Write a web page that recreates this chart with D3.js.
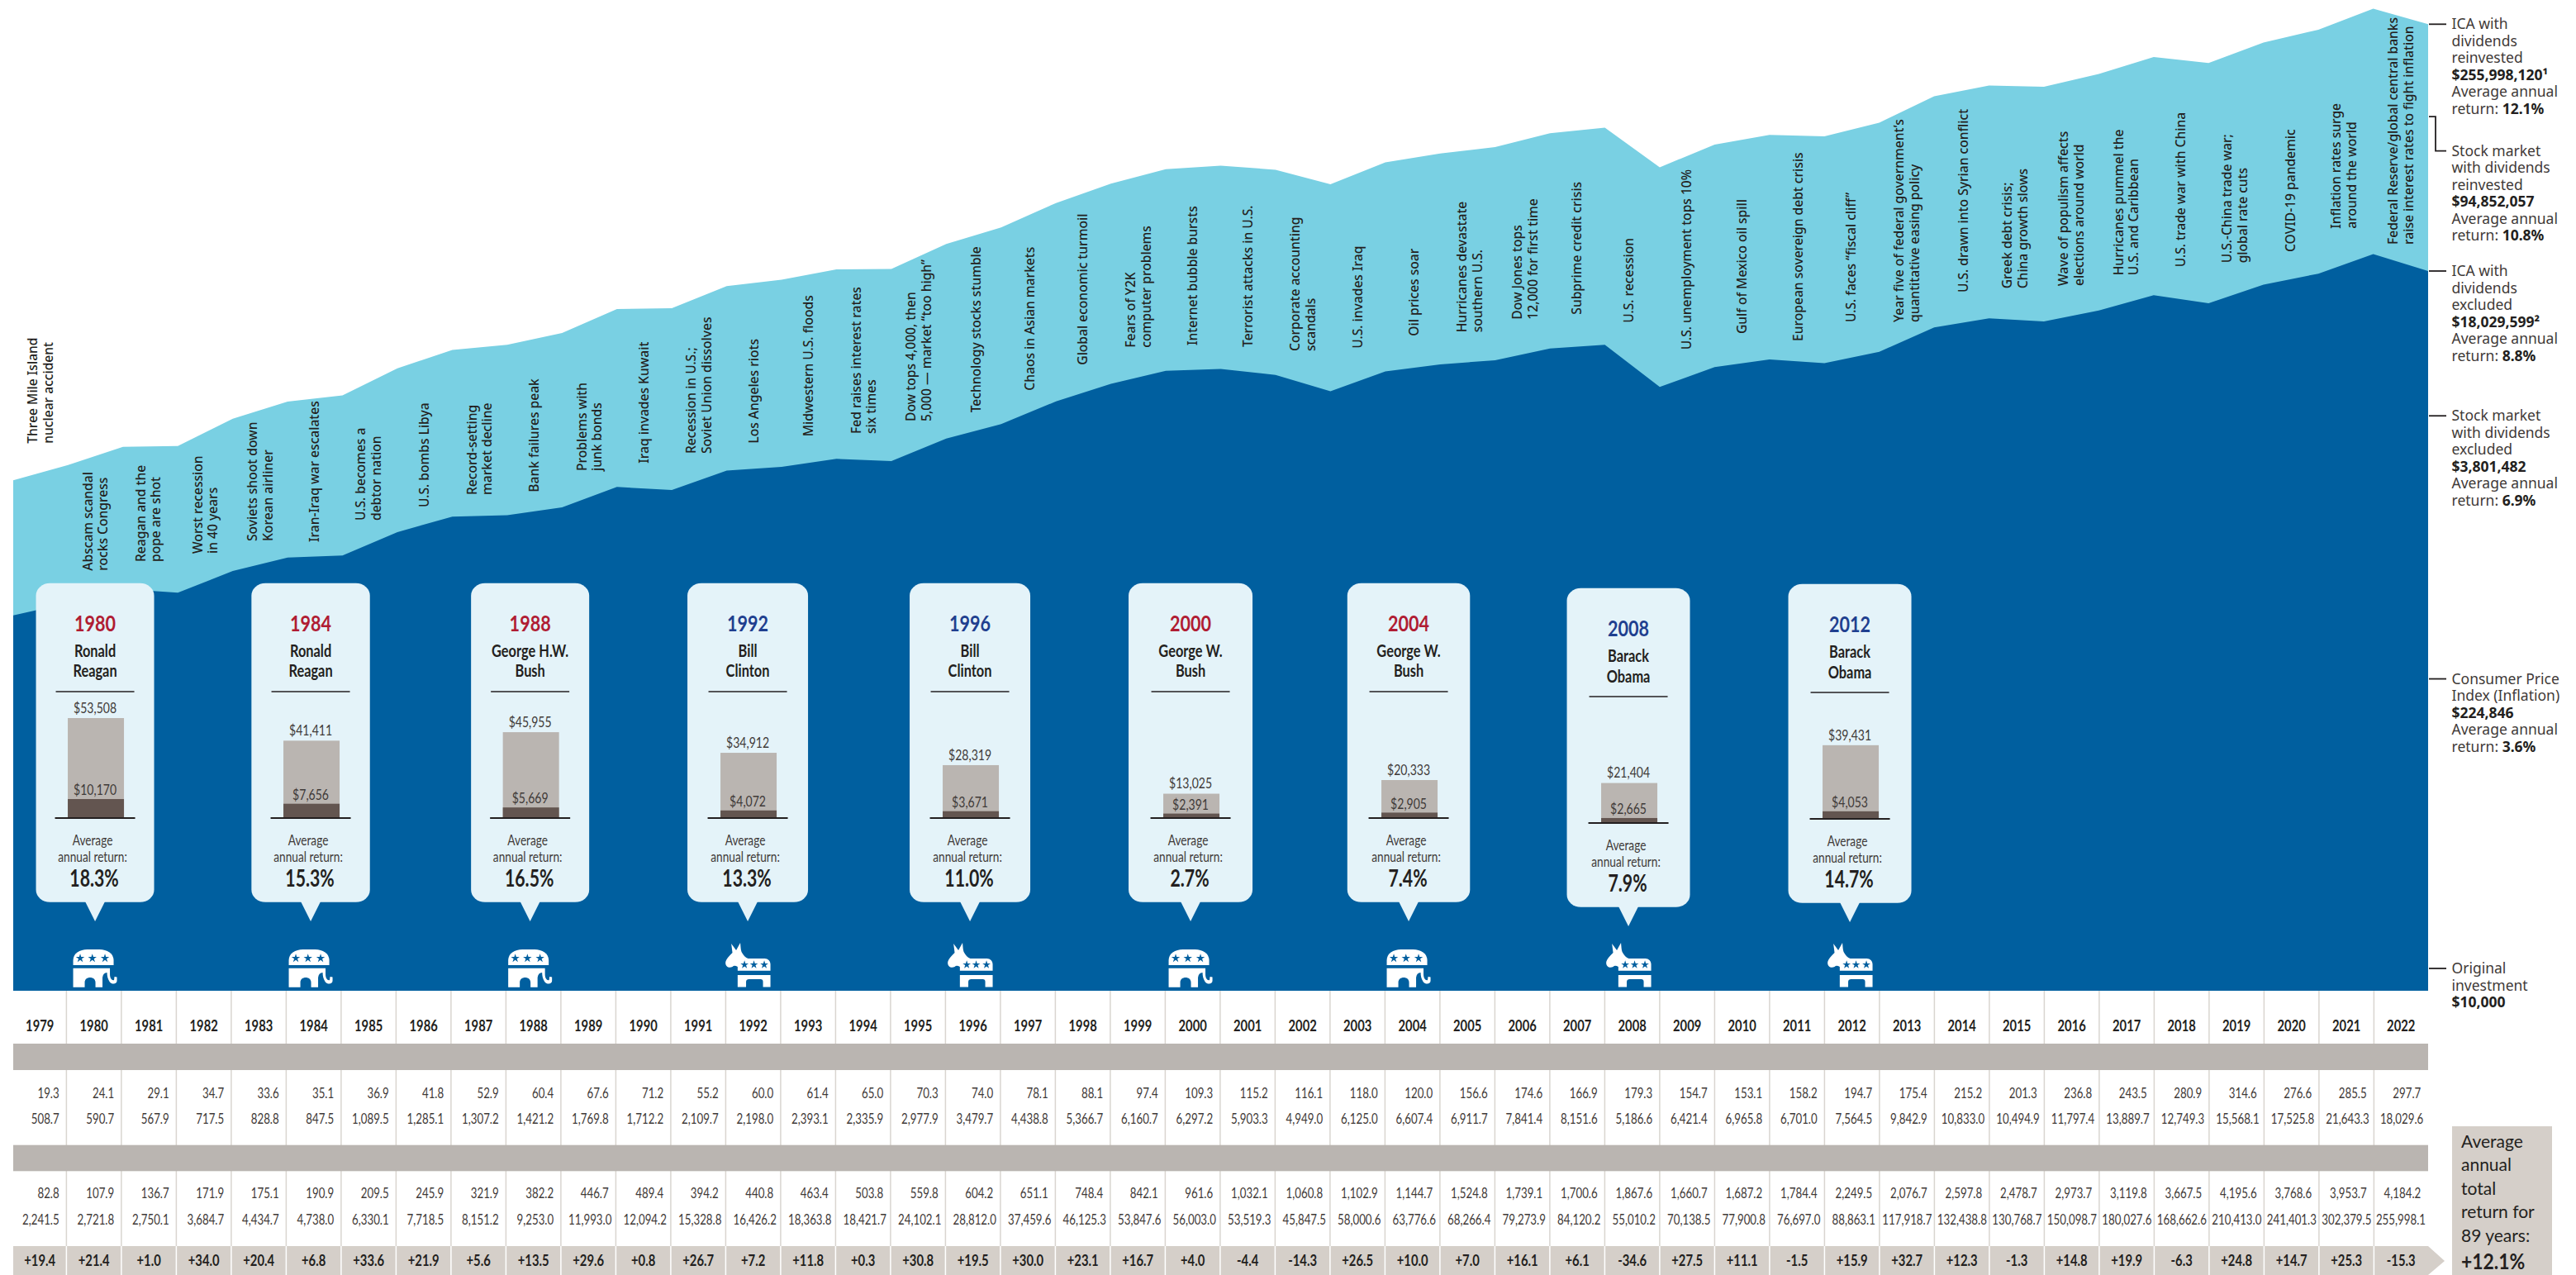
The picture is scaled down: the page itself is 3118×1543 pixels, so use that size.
<!DOCTYPE html>
<html>
<head>
<meta charset="utf-8">
<script src="https://cdn.jsdelivr.net/npm/d3@7"></script>
<style>html,body{margin:0;padding:0;background:#fff}svg{display:block}</style>
</head>
<body>
<svg id="c" width="3118" height="1543"></svg>
<script>
// ---------- DATA ----------
const years = [1979,1980,1981,1982,1983,1984,1985,1986,1987,1988,1989,1990,1991,1992,1993,1994,1995,1996,1997,1998,1999,2000,2001,2002,2003,2004,2005,2006,2007,2008,2009,2010,2011,2012,2013,2014,2015,2016,2017,2018,2019,2020,2021,2022];
const dividendsExcludedIncome = [19.3,24.1,29.1,34.7,33.6,35.1,36.9,41.8,52.9,60.4,67.6,71.2,55.2,60.0,61.4,65.0,70.3,74.0,78.1,88.1,97.4,109.3,115.2,116.1,118.0,120.0,156.6,174.6,166.9,179.3,154.7,153.1,158.2,194.7,175.4,215.2,201.3,236.8,243.5,280.9,314.6,276.6,285.5,297.7];
const icaExcluded = [508.7,590.7,567.9,717.5,828.8,847.5,1089.5,1285.1,1307.2,1421.2,1769.8,1712.2,2109.7,2198.0,2393.1,2335.9,2977.9,3479.7,4438.8,5366.7,6160.7,6297.2,5903.3,4949.0,6125.0,6607.4,6911.7,7841.4,8151.6,5186.6,6421.4,6965.8,6701.0,7564.5,9842.9,10833.0,10494.9,11797.4,13889.7,12749.3,15568.1,17525.8,21643.3,18029.6];
const dividendsReinvestedIncome = [82.8,107.9,136.7,171.9,175.1,190.9,209.5,245.9,321.9,382.2,446.7,489.4,394.2,440.8,463.4,503.8,559.8,604.2,651.1,748.4,842.1,961.6,1032.1,1060.8,1102.9,1144.7,1524.8,1739.1,1700.6,1867.6,1660.7,1687.2,1784.4,2249.5,2076.7,2597.8,2478.7,2973.7,3119.8,3667.5,4195.6,3768.6,3953.7,4184.2];
const icaReinvested = [2241.5,2721.8,2750.1,3684.7,4434.7,4738.0,6330.1,7718.5,8151.2,9253.0,11993.0,12094.2,15328.8,16426.2,18363.8,18421.7,24102.1,28812.0,37459.6,46125.3,53847.6,56003.0,53519.3,45847.5,58000.6,63776.6,68266.4,79273.9,84120.2,55010.2,70138.5,77900.8,76697.0,88863.1,117918.7,132438.8,130768.7,150098.7,180027.6,168662.6,210413.0,241401.3,302379.5,255998.1];
const annualReturns = [19.4,21.4,1.0,34.0,20.4,6.8,33.6,21.9,5.6,13.5,29.6,0.8,26.7,7.2,11.8,0.3,30.8,19.5,30.0,23.1,16.7,4.0,-4.4,-14.3,26.5,10.0,7.0,16.1,6.1,-34.6,27.5,11.1,-1.5,15.9,32.7,12.3,-1.3,14.8,19.9,-6.3,24.8,14.7,25.3,-15.3];
const startReinvested = 1900;   // value at the left edge of the chart
const startExcluded = 445;

const events = [
["Three Mile Island","nuclear accident"],["Abscam scandal","rocks Congress"],["Reagan and the","pope are shot"],["Worst recession","in 40 years"],["Soviets shoot down","Korean airliner"],["Iran-Iraq war escalates"],["U.S. becomes a","debtor nation"],["U.S. bombs Libya"],["Record-setting","market decline"],["Bank failures peak"],["Problems with","junk bonds"],["Iraq invades Kuwait"],["Recession in U.S.;","Soviet Union dissolves"],["Los Angeles riots"],["Midwestern U.S. floods"],["Fed raises interest rates","six times"],["Dow tops 4,000, then","5,000 — market “too high”"],["Technology stocks stumble"],["Chaos in Asian markets"],["Global economic turmoil"],["Fears of Y2K","computer problems"],["Internet bubble bursts"],["Terrorist attacks in U.S."],["Corporate accounting","scandals"],["U.S. invades Iraq"],["Oil prices soar"],["Hurricanes devastate","southern U.S."],["Dow Jones tops","12,000 for first time"],["Subprime credit crisis"],["U.S. recession"],["U.S. unemployment tops 10%"],["Gulf of Mexico oil spill"],["European sovereign debt crisis"],["U.S. faces “fiscal cliff”"],["Year five of federal government’s","quantitative easing policy"],["U.S. drawn into Syrian conflict"],["Greek debt crisis;","China growth slows"],["Wave of populism affects","elections around world"],["Hurricanes pummel the","U.S. and Caribbean"],["U.S. trade war with China"],["U.S.-China trade war;","global rate cuts"],["COVID-19 pandemic"],["Inflation rates surge","around the world"],["Federal Reserve/global central banks","raise interest rates to fight inflation"]];

const electionYears = [1980,1984,1988,1992,1996,2000,2004,2008,2012];
const electionParties = ["R","R","R","D","D","R","R","D","D"];
const electionNames = [["Ronald","Reagan"],["Ronald","Reagan"],["George H.W.","Bush"],["Bill","Clinton"],["Bill","Clinton"],["George W.","Bush"],["George W.","Bush"],["Barack","Obama"],["Barack","Obama"]];
const electionReinvested = [53508,41411,45955,34912,28319,13025,20333,21404,39431];
const electionExcluded = [10170,7656,5669,4072,3671,2391,2905,2665,4053];
const electionAvgReturn = [18.3,15.3,16.5,13.3,11.0,2.7,7.4,7.9,14.7];

const legendItems = [
 {value:255998120, lines:["ICA with","dividends","reinvested"], amount:"$255,998,120", sup:"¹", ret:"12.1%"},
 {value:94852057, lines:["Stock market","with dividends","reinvested"], amount:"$94,852,057", sup:"", ret:"10.8%", bracket:true},
 {value:18029599, lines:["ICA with","dividends","excluded"], amount:"$18,029,599", sup:"²", ret:"8.8%"},
 {value:3801482, lines:["Stock market","with dividends","excluded"], amount:"$3,801,482", sup:"", ret:"6.9%"},
 {value:224846, lines:["Consumer Price","Index (Inflation)"], amount:"$224,846", sup:"", ret:"3.6%"},
 {value:10000, lines:["Original","investment"], amount:"$10,000", sup:"", ret:null}
];
const summaryLines = ["Average","annual","total","return for","89 years:"];
const summaryValue = "+12.1%";

// ---------- LAYOUT ----------
const LIGHT="#79d0e3", DARK="#005f9f", PALE="#e4f3f9", BAND="#bab5b1", TAN="#d5cfc9", INK="#231f20", GREY="#3f3a38";
const chartL=16, chartR=2939, chartB=1199;
const eventBottoms=[536.7,690.7,680,670,655,656,630,614,599,595.7,570,560.7,549,536.7,528.3,525,510,499.3,472.7,441.7,420.7,418,420,425,421.7,406.7,402.3,386.7,380.7,390.7,423.3,404,413,390,390,354,349.3,346,333.3,323.3,318.3,305,276.7,296];
const eventNudge={17:3.5,18:2.5,25:2,29:-4,35:3,32:1.5,42:-2,2:-2.5,6:-2,27:3,26:3,36:-1.5,40:-1};
const calloutNudge=[1.4,-3.6,-4,-6.6,-3.6,-2.6,-4.6,-4.6,-2.6];
const calloutDrop=[0,0,0,0,0,0,0,6,1];
const calloutW=[143,143.4,143,146,146,150,148.5,149,149];

const svg=d3.select("#c");
const x=d3.scaleLinear().domain([1978,2022]).range([chartL,chartR]);
const y=d3.scaleLog().domain([10,255998.1]).range([1172,29.3]);
const tableX=d3.scaleLinear().domain([1980,2022]).range([80.4,2873.4]);
const colL=yr=>yr===1979?chartL:tableX(yr);
const colR=yr=>yr===2022?chartR:tableX(yr+1);
const barH=d3.scaleLinear().domain([0,53508]).range([0,121]);

function label(g,str,px,py,o={}){
  const t=g.append("text").text(str)
    .attr("transform",`translate(${px},${py+(o.size||16)*0.35}) scale(${o.sx||1},1)`)
    .attr("font-family",o.family||"Lato").attr("font-size",o.size||16)
    .attr("font-weight",o.weight||400).attr("text-anchor",o.anchor||"start")
    .attr("fill",o.fill||INK);
  return t;
}

// ---------- AREAS ----------
const series=(start,vals)=>[{yr:1978,v:start}].concat(vals.map((v,i)=>({yr:years[i],v})));
const area=d3.area().x(d=>x(d.yr)).y0(chartB).y1(d=>y(d.v)).curve(d3.curveLinear);
svg.append("path").datum(series(startReinvested,icaReinvested)).attr("d",area).attr("fill",LIGHT);
svg.append("path").datum(series(startExcluded,icaExcluded)).attr("d",area).attr("fill",DARK);

// ---------- EVENTS ----------
const gEv=svg.append("g");
events.forEach((lines,i)=>{
  const yr=years[i];
  const base=(x(yr-1)+x(yr))/2+5-(lines.length-1)*9+(eventNudge[i]||0);
  lines.forEach((s,k)=>{
    gEv.append("text").text(s)
      .attr("transform",`translate(${base+k*18.8},${eventBottoms[i]}) rotate(-90)`)
      .attr("font-family","Noto Sans").attr("font-size",15.6).attr("font-weight",500).attr("fill",INK);
  });
});

// ---------- CALLOUTS ----------
function elephant(g,color){
  g.append("path").attr("fill","#fff").attr("d","M0,19 V13 C0,5 8,0 17,0 H32 C41,0 49,5 49,13 V19 Z");
  g.append("path").attr("fill","#fff").attr("d","M0,22.7 H44.5 V30 C44.5,35 47,38 49.5,37 L50,33 L53,33.5 L53,38 C53,42 47,43 44,39 C42,36 41,32 41,28 C38,28 36,30 35.5,34 L35.5,45.8 H27 V40 C27,36 24,34 20.5,34 C17,34 14,36 14,40 V45.8 H0 Z");
  [7,21.7,37].forEach(sx=>g.append("path").attr("d",d3.symbol().type(d3.symbolStar).size(34)()).attr("transform",`translate(${sx+1.5},10.7)`).attr("fill",color));
}
function donkey(g,color){
  g.append("path").attr("fill","#fff").attr("d","M18.5,0 C19,5 19,8 20,11 C22,15 25,18 28,19 H48 C52,19 55,22 55,26 V33.7 H15.3 V29 C13,28 11,27 9,29 C5,31 0.5,29 0.6,24 C1,20 5,16 9,12 L7.6,1 L13.5,9 Z");
  g.append("path").attr("fill","#fff").attr("d","M15.3,39 H55 V53.4 H46 V47 C46,45 45,44 43,44 H29 C27,44 25.5,45 25.5,47 V53.4 H15.3 Z");
  [23.6,35,47.5].forEach(sx=>g.append("path").attr("d",d3.symbol().type(d3.symbolStar).size(30)()).attr("transform",`translate(${sx},26.5)`).attr("fill",color));
}
electionYears.forEach((yr,i)=>{
  const cx=tableX(yr)+33.25+calloutNudge[i], dy=calloutDrop[i], w=calloutW[i];
  const g=svg.append("g").attr("transform",`translate(${cx},${dy})`);
  g.append("rect").attr("x",-w/2).attr("y",705.8).attr("width",w).attr("height",386).attr("rx",17).attr("ry",15).attr("fill",PALE);
  g.append("path").attr("d",d3.line()([[-12.5,1090],[12.5,1090],[0,1115]])+"Z").attr("fill",PALE);
  const party=electionParties[i];
  label(g,yr,0,755,{size:27,weight:700,anchor:"middle",sx:.8,fill:party==="R"?"#b01c33":"#1f3f8f"});
  const gap=party==="D"&&yr>=2008?25.3:23.4;
  electionNames[i].forEach((n,k)=>label(g,n,0,787.8+k*gap,{size:21,weight:700,anchor:"middle",sx:.78}));
  g.append("line").attr("x1",-47.5).attr("x2",47.5).attr("y1",837).attr("y2",837).attr("stroke",INK).attr("stroke-width",1.5);
  const base=990, h1=barH(electionReinvested[i]), h2=barH(electionExcluded[i]);
  g.append("rect").attr("x",-33).attr("width",68).attr("y",base-h1).attr("height",h1).attr("fill",BAND);
  g.append("rect").attr("x",-33).attr("width",68).attr("y",base-h2).attr("height",h2).attr("fill","#635550");
  g.append("line").attr("x1",-48.5).attr("x2",48.5).attr("y1",base).attr("y2",base).attr("stroke",INK).attr("stroke-width",2);
  const fmt=d3.format("$,");
  label(g,fmt(electionReinvested[i]),0,base-h1-12.5,{size:18,anchor:"middle",sx:.78,fill:GREY});
  label(g,fmt(electionExcluded[i]),0,base-h2-11,{size:18,anchor:"middle",sx:.78,fill:GREY});
  label(g,"Average",-3,1017,{size:18,anchor:"middle",sx:.76,fill:GREY});
  label(g,"annual return:",-3,1036.4,{size:18,anchor:"middle",sx:.76,fill:GREY});
  label(g,electionAvgReturn[i].toFixed(1)+"%",-1,1063,{size:28,weight:700,anchor:"middle",sx:.76});
  const ic=svg.append("g");
  if(party==="R"){ ic.attr("transform",`translate(${cx-26.5},1149)`); elephant(ic,DARK); }
  else { ic.attr("transform",`translate(${cx-27.5},1141)`); donkey(ic,DARK); }
});

// ---------- TABLE ----------
const gT=svg.append("g");
const lineYears=years.slice(1);
gT.selectAll("line.col").data(lineYears).join("line")
  .attr("x1",d=>tableX(d)).attr("x2",d=>tableX(d)).attr("y1",chartB).attr("y2",1508)
  .attr("stroke","#d9d5d0").attr("stroke-width",1.5);
gT.append("rect").attr("x",chartL).attr("width",chartR-chartL).attr("y",1263).attr("height",32).attr("fill",BAND);
gT.append("rect").attr("x",chartL).attr("width",chartR-chartL).attr("y",1385.7).attr("height",31.6).attr("fill",BAND);
gT.append("path").attr("fill",TAN).attr("d",d3.line()([[chartL,1508],[chartR,1508],[chartR+20,1526],[chartR,1543],[chartL,1543]])+"Z");
gT.selectAll("line.w").data(lineYears).join("line")
  .attr("x1",d=>tableX(d)).attr("x2",d=>tableX(d)).attr("y1",1508).attr("y2",1543)
  .attr("stroke","#fff").attr("stroke-width",1.5);
const f1=d3.format(",.1f"), fr=v=>d3.format("+.1f")(v).replace("−","-");
years.forEach((yr,i)=>{
  const c=(colL(yr)+colR(yr))/2, r=colR(yr);
  label(gT,yr,c,1241.7,{size:18,weight:700,anchor:"middle",sx:.82});
  label(gT,f1(dividendsExcludedIncome[i]),r-8.7,1322.7,{size:17.5,anchor:"end",sx:.76,fill:GREY});
  label(gT,f1(icaExcluded[i]),r-8.7+(icaExcluded[i]>=10000?3:0),1354,{size:17.5,anchor:"end",sx:.76,fill:GREY});
  label(gT,f1(dividendsReinvestedIncome[i]),r-8.7,1444.3,{size:17.5,anchor:"end",sx:.76,fill:GREY});
  label(gT,f1(icaReinvested[i]),r-(icaReinvested[i]>=100000?3:icaReinvested[i]>=10000?5:8.7),1476,{size:17.5,anchor:"end",sx:.76,fill:GREY});
  label(gT,fr(annualReturns[i]),c,1526,{size:18.5,weight:700,anchor:"middle",sx:.8});
});

// ---------- LEGEND ----------
const gL=svg.append("g"), legendX=2967.5, step=20.5;
legendItems.forEach(it=>{
  const ly=y(it.value/1000);
  let y0=ly;
  if(it.bracket){
    y0=ly+41.5;
    gL.append("path").attr("fill","none").attr("stroke",INK).attr("stroke-width",1.8)
      .attr("d",d3.line()([[chartR+1,ly],[chartR+9,ly],[chartR+9,y0],[chartR+22,y0]]));
  } else {
    gL.append("line").attr("x1",chartR+1).attr("x2",chartR+22).attr("y1",ly).attr("y2",ly).attr("stroke",INK).attr("stroke-width",1.8);
  }
  let k=0;
  it.lines.forEach(s=>{label(gL,s,legendX,y0+(k++)*step,{size:17.5,family:"Noto Sans",fill:GREY});});
  const a=label(gL,it.amount,legendX,y0+(k++)*step,{size:17.5,weight:700,family:"Noto Sans"});
  if(it.sup) a.append("tspan").text(it.sup);
  if(it.ret){
    label(gL,"Average annual",legendX,y0+(k++)*step,{size:17.5,family:"Noto Sans",fill:GREY});
    const r=label(gL,"return: ",legendX,y0+(k++)*step,{size:17.5,family:"Noto Sans",fill:GREY});
    r.append("tspan").text(it.ret).attr("font-weight",700).attr("fill",INK);
  }
});

// ---------- SUMMARY BOX ----------
const gS=svg.append("g");
gS.append("rect").attr("x",2968).attr("y",1363).attr("width",121).attr("height",180).attr("fill",TAN);
summaryLines.forEach((s,k)=>label(gS,s,2979,1381.7+k*28.4,{size:21,fill:INK}));
label(gS,summaryValue,2979,1527,{size:26,weight:700,sx:.88});
</script>
</body>
</html>
